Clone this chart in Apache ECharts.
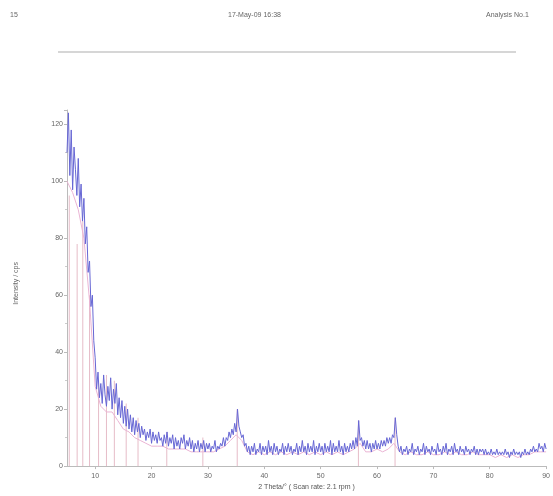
<!DOCTYPE html>
<html>
<head>
<meta charset="utf-8">
<script src="https://cdn.jsdelivr.net/npm/echarts@6/dist/echarts.min.js"></script>
<style>
  html, body { margin: 0; padding: 0; background: #fff; }
  #chart { width: 553px; height: 496px; }
</style>
</head>
<body>
<div id="chart"></div>
<script>
// scan grid (2 theta, degrees)
var scanStart = 5, scanStep = 0.25;
// measured counts, one value per 0.25 deg step from 5 to 90
var scanCounts = [
  110, 124, 102, 118, 97, 112, 104, 95, 108, 91, 99, 86, 94, 78, 84, 68, 72, 56, 60, 44, 38,
  27, 33, 24, 29, 22, 32, 25, 21, 28, 23, 31, 20, 27, 22, 29, 18, 24, 17, 23, 15, 21, 14, 20, 13, 18, 12, 17, 11, 16, 12, 15, 10, 14, 11, 13, 9, 12, 10, 13, 8,
  12, 9, 11, 8, 12, 9, 10, 7, 11, 8, 12, 7, 10, 8, 11, 6, 10, 7, 9, 6, 10, 8, 11, 6, 9, 7, 10, 6, 9, 5, 8, 6, 9, 5, 8, 6, 9, 5, 8, 6,
  8, 5, 7, 6, 9, 5, 7, 6, 8, 7, 10, 7, 10, 9, 12, 10, 13, 11, 15, 12, 20, 14, 12, 10, 11, 7, 8, 5, 7, 4, 7, 5, 8, 4, 6, 5, 8, 4, 7, 5,
  7, 4, 9, 5, 7, 4, 8, 5, 7, 4, 6, 5, 8, 4, 7, 5, 8, 5, 7, 4, 6, 5, 8, 4, 7, 5, 9, 5, 7, 4, 8, 5, 7, 5, 9, 4, 7, 5, 8, 5,
  7, 4, 8, 5, 7, 5, 9, 4, 8, 5, 7, 5, 9, 5, 7, 4, 8, 5, 7, 5, 8, 6, 9, 6, 10, 7, 16, 9, 10, 7, 9, 6, 9, 6, 8, 5, 8, 6, 9, 6,
  8, 6, 9, 7, 9, 7, 10, 8, 10, 8, 11, 10, 17, 11, 7, 5, 7, 4, 6, 5, 7, 4, 6, 5, 8, 4, 6, 5, 7, 4, 6, 5, 8, 4, 7, 5, 6, 4, 7, 5,
  6, 4, 8, 5, 6, 4, 7, 5, 8, 4, 6, 5, 7, 4, 8, 5, 6, 4, 7, 5, 6, 4, 7, 5, 6, 4, 6, 5, 7, 4, 6, 4, 6, 5, 6, 4, 6, 4, 5, 4,
  6, 4, 5, 4, 6, 4, 5, 4, 5, 4, 6, 4, 5, 3, 5, 4, 6, 4, 5, 4, 5, 3, 5, 4, 6, 4, 5, 4, 6, 5, 7, 5, 6, 5, 8, 6, 7, 5, 8, 6
];
// second trace, one value per 1 deg step from 5 to 90
var traceCounts = [
  100, 96, 90, 80, 58, 28, 21, 19, 19, 16,
  13, 12, 10, 9, 8, 7, 7, 7, 6, 6,
  6, 6, 5, 5, 5, 5, 5, 6, 7, 9,
  11, 9, 5, 4, 5, 4, 5, 4, 5, 4,
  5, 4, 5, 4, 5, 4, 5, 4, 5, 4,
  5, 6, 8, 5, 5, 6, 5, 6, 8, 5,
  4, 5, 4, 4, 5, 4, 4, 5, 4, 5,
  4, 4, 5, 4, 4, 4, 3, 4, 3, 4,
  3, 4, 4, 5, 5, 5
];
// reference pattern sticks
var stickAngles = [5.4, 6.8, 7.8, 9.0, 10.6, 12.0, 13.4, 15.5, 17.6, 22.7, 29.1, 35.2, 56.7, 63.2];
var stickHeights = [95, 78, 86, 60, 30, 32, 30, 22, 17, 12, 10, 20, 16, 17];
var xTicks = [10, 20, 30, 40, 50, 60, 70, 80, 90];

var scanData = scanCounts.map(function (v, i) { return [scanStart + i * scanStep, v]; });
var traceData = traceCounts.map(function (v, i) { return [scanStart + i, v]; });
var stickData = stickAngles.map(function (a, i) { return [a, stickHeights[i]]; });

var myChart = echarts.init(document.getElementById('chart'));

var option = {
  animation: false,
  textStyle: { fontFamily: 'Liberation Sans' },
  graphic: [
    { type: 'text', left: 10, top: 12, style: { text: '15', fontSize: 7, fill: '#666' } },
    { type: 'text', left: 228, top: 12, style: { text: '17-May-09 16:38', fontSize: 7, fill: '#666' } },
    { type: 'text', left: 486, top: 12, style: { text: 'Analysis No.1', fontSize: 7, fill: '#666' } },
    { type: 'line', shape: { x1: 58, y1: 52, x2: 516, y2: 52 }, style: { stroke: '#c8c8c8', lineWidth: 1.5 } },
    { type: 'text', left: 13, top: 262, rotation: Math.PI / 2,
      style: { text: 'Intensity / cps', fontSize: 7, fill: '#666' } }
  ],
  grid: { left: 67, right: 3, top: 110, bottom: 29 },
  xAxis: {
    type: 'value',
    min: 5,
    max: 90,
    name: '2 Theta/° ( Scan rate: 2.1 rpm )',
    nameLocation: 'middle',
    nameGap: 14,
    nameTextStyle: { fontSize: 7, color: '#555' },
    splitLine: { show: false },
    axisLine: { lineStyle: { color: '#bbb' } },
    axisTick: { customValues: xTicks, length: 3, lineStyle: { color: '#bbb' } },
    axisLabel: { customValues: xTicks, fontSize: 7, color: '#666', margin: 6 }
  },
  yAxis: {
    type: 'value',
    min: 0,
    max: 125,
    interval: 20,
    splitLine: { show: false },
    axisLine: { show: true, lineStyle: { color: '#bbb' } },
    axisTick: { show: true, length: 3, lineStyle: { color: '#bbb' } },
    minorTick: { show: true, splitNumber: 2, length: 2, lineStyle: { color: '#ccc' } },
    axisLabel: {
      fontSize: 7, color: '#666', margin: 4,
      formatter: function (v) { return v % 20 === 0 ? v : ''; }
    }
  },
  series: [
    {
      name: 'sticks',
      type: 'bar',
      data: stickData,
      barWidth: 1,
      itemStyle: { color: '#e6bcc8' },
      silent: true
    },
    {
      name: 'trace',
      type: 'line',
      data: traceData,
      symbol: 'none',
      lineStyle: { color: '#eab4d4', width: 1 }
    },
    {
      name: 'scan',
      type: 'line',
      data: scanData,
      symbol: 'none',
      lineStyle: { color: '#6666d4', width: 1 }
    }
  ]
};

myChart.setOption(option);
</script>
</body>
</html>
